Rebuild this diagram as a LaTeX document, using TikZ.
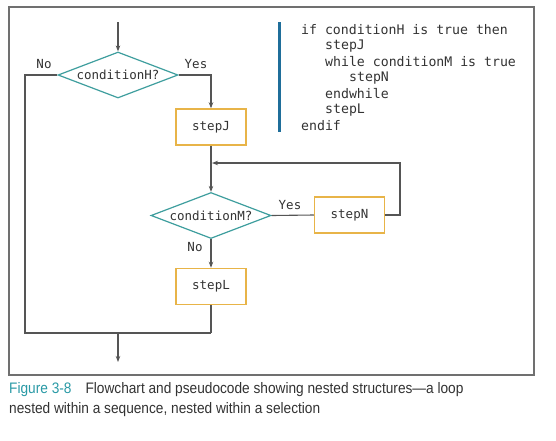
\documentclass[tikz,border=0pt]{standalone}
\usepackage{fontspec}
\setmainfont{Liberation Sans}
\newfontfamily\codefont{DejaVu Sans Mono}
\newfontfamily\capfont[FakeStretch=0.9]{Liberation Sans}
\usetikzlibrary{shapes.geometric,arrows.meta}
\definecolor{frame}{HTML}{707070}
\definecolor{linec}{HTML}{555555}
\definecolor{teal2}{HTML}{3E9E9E}
\definecolor{gold}{HTML}{E8B448}
\definecolor{barblue}{HTML}{1F6E9A}
\definecolor{capteal}{HTML}{2A9AA6}
\definecolor{captext}{HTML}{333333}
\begin{document}
\begin{tikzpicture}[x=1pt,y=-1pt,
  decision/.style={diamond,draw=teal2,line width=1.2pt,aspect=2.6,inner sep=0pt,
     minimum width=120pt,minimum height=46pt,font=\codefont\fontsize{12.5}{14}\selectfont,text=captext},
  stepbox/.style={rectangle,draw=gold,line width=1.5pt,minimum width=70pt,minimum height=36pt,
     font=\codefont\fontsize{12.5}{14}\selectfont,text=captext},
  conn/.style={draw=linec,line width=1.1pt},
  arrow/.style={conn,-{Stealth[length=6pt,width=4.5pt]}},
  lbl/.style={font=\codefont\fontsize{12.5}{14}\selectfont,text=captext,inner sep=0pt},
  code/.style={font=\codefont\fontsize{13.2}{16}\selectfont,text=captext,anchor=west,inner sep=0pt},
  captext/.style={font=\capfont\fontsize{15.2}{18}\selectfont,text=captext,anchor=west,inner sep=0pt}]
\useasboundingbox (0,0) rectangle (556,440);
\fill[white] (0,0) rectangle (556,440);
% frame
\draw[frame,line width=1.6pt] (9,7) rectangle (534,375);
% nodes
\node[decision] (H) at (118,75) {conditionH?};
\node[stepbox] (J) at (211,127) {stepJ};
\node[decision] (M) at (211,215.5) {conditionM?};
\node[stepbox] (N) at (349.5,215) {stepN};
\node[stepbox] (L) at (211,286.5) {stepL};
\coordinate (start) at (118,22);
\coordinate (endp) at (118,362);
\coordinate (join) at (118,333);
\coordinate (bl) at (25,333);
\coordinate (br) at (211,333);
\coordinate (loopr) at (400,215);
\coordinate (loopin) at (212,163);
% connectors
\draw[arrow] (start) -- (H.north);
\draw[conn] (H.west) -| (bl) -- (br);
\draw[conn] (L.south) -- (br);
\draw[arrow] (join) -- (endp);
\draw[arrow] (H.east) -| (J.north);
\draw[arrow] (J.south) -- (M.north);
\draw[conn] (M.east) -- (N.west);
\draw[arrow] (N.east) -- (loopr) |- (loopin);
\draw[arrow] (M.south) -- (L.north);
% labels
\node[lbl] (noH) at (44,64) {No};
\node[lbl] (yesH) at (196,64) {Yes};
\node[lbl] (yesM) at (290,205) {Yes};
\node[lbl] (noM) at (195,247) {No};
% pseudocode
\draw[barblue,line width=3pt] (279,22) -- (279,132);
\node[code] (c1) at (301,30) {if conditionH is true then};
\node[code] (c2) at (325,46) {stepJ};
\node[code] (c3) at (325,62) {while conditionM is true};
\node[code] (c4) at (349,78) {stepN};
\node[code] (c5) at (325,94) {endwhile};
\node[code] (c6) at (325,110) {stepL};
\node[code] (c7) at (301,126) {endif};
% caption
\node[captext] (cap1) at (9,390) {\textcolor{capteal}{Figure 3-8}\hspace{14pt}Flowchart and pseudocode showing nested structures—a loop};
\node[captext] (cap2) at (9,410) {nested within a sequence, nested within a selection};
\end{tikzpicture}
\end{document}
